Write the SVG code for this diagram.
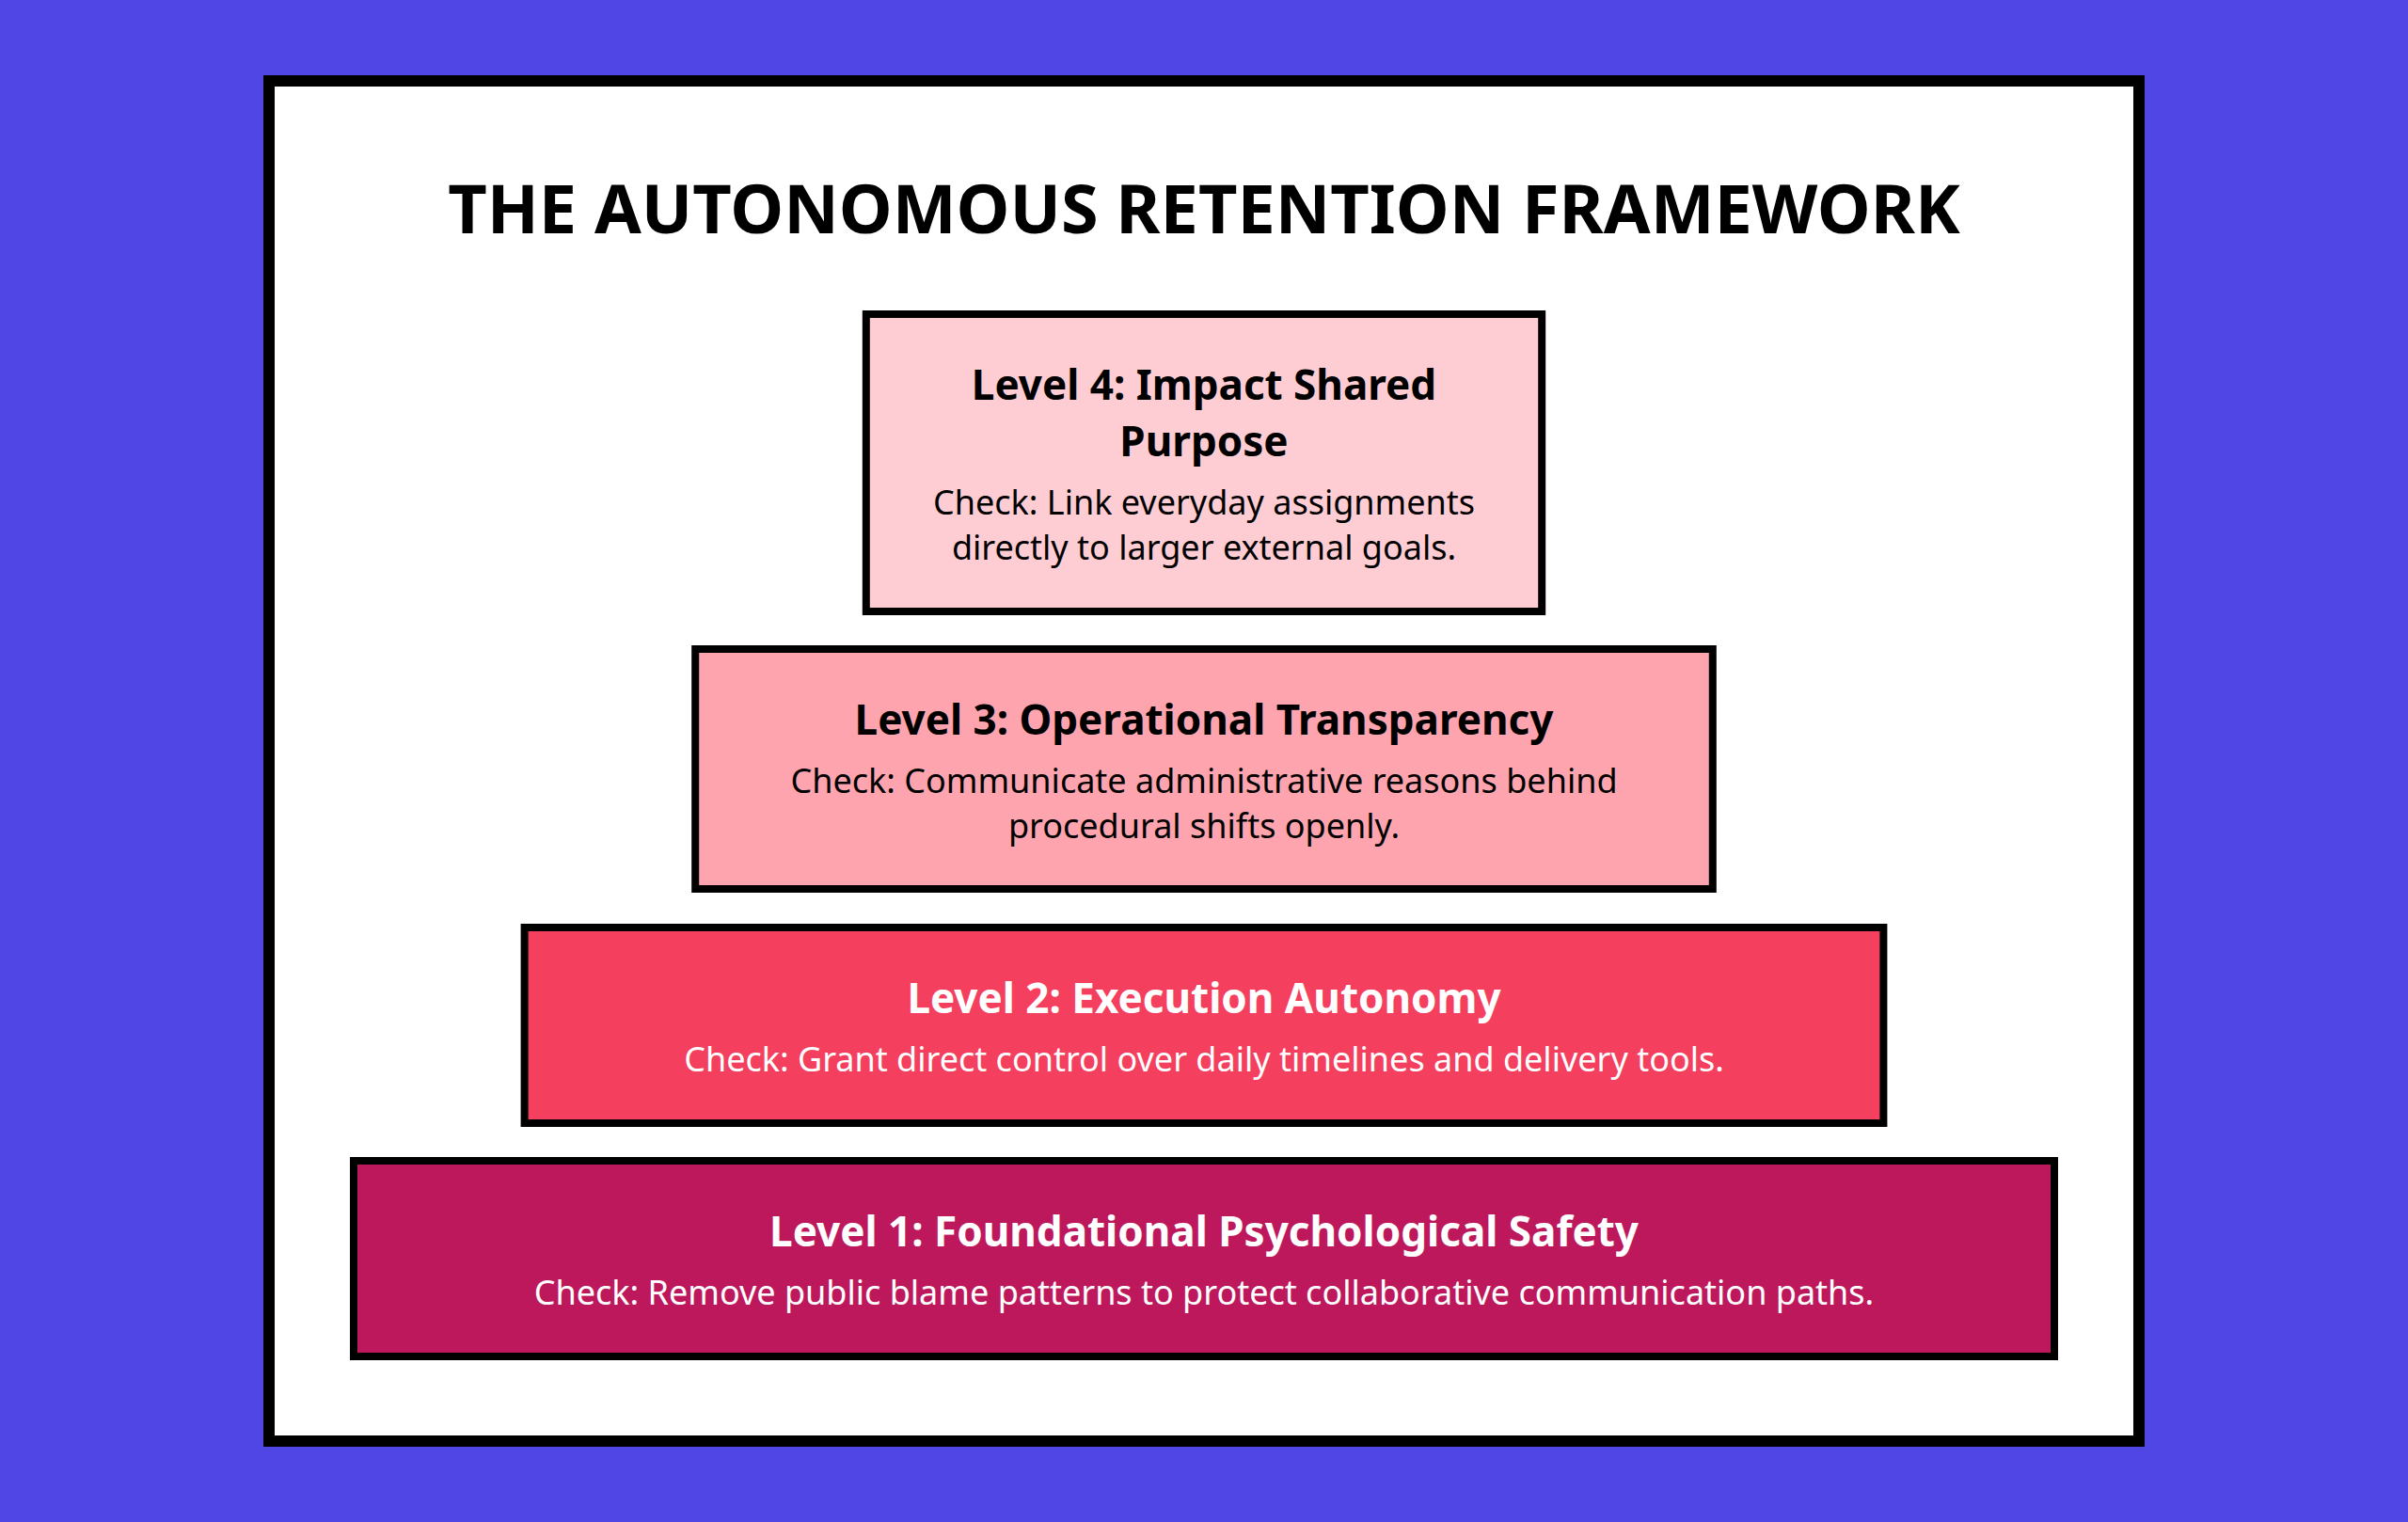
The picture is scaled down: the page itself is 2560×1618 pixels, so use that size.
<svg xmlns="http://www.w3.org/2000/svg" width="2560" height="1618" viewBox="0 0 2560 1618">
  <style>
    .frame { fill: #ffffff; stroke: #000000; stroke-width: 12; }
    .box { stroke: #000000; stroke-width: 8; }
    .title { font-family: "Noto Sans", "Open Sans", sans-serif; font-weight: 700; font-size: 72px; fill: #000000; text-anchor: middle; }
    .head { font-family: "Noto Sans", "Open Sans", sans-serif; font-weight: 700; font-size: 44px; text-anchor: middle; }
    .body { font-family: "Noto Sans", "Open Sans", sans-serif; font-weight: 400; font-size: 36px; text-anchor: middle; }
    .dark { fill: #000000; }
    .light { fill: #ffffff; }
  </style>
  <rect x="0" y="0" width="2560" height="1618" fill="#4F46E5"/>
  <rect class="frame" x="286" y="86" width="1988" height="1446"/>
  <text class="title" x="1280" y="248">THE AUTONOMOUS RETENTION FRAMEWORK</text>

  <g id="level4">
    <rect class="box" x="920.8" y="334" width="718.4" height="316" fill="#FECDD3"/>
    <text class="head dark" x="1280" y="425">Level 4: Impact Shared</text>
    <text class="head dark" x="1280" y="484.5">Purpose</text>
    <text class="body dark" x="1280" y="546.5">Check: Link everyday assignments</text>
    <text class="body dark" x="1280" y="594.5">directly to larger external goals.</text>
  </g>

  <g id="level3">
    <rect class="box" x="739.2" y="690" width="1081.6" height="255" fill="#FDA4AF"/>
    <text class="head dark" x="1280" y="780.5">Level 3: Operational Transparency</text>
    <text class="body dark" x="1280" y="842.5">Check: Communicate administrative reasons behind</text>
    <text class="body dark" x="1280" y="890.5">procedural shifts openly.</text>
  </g>

  <g id="level2">
    <rect class="box" x="557.6" y="986" width="1444.8" height="208" fill="#F43F5E"/>
    <text class="head light" x="1280" y="1076.8">Level 2: Execution Autonomy</text>
    <text class="body light" x="1280" y="1138.5">Check: Grant direct control over daily timelines and delivery tools.</text>
  </g>

  <g id="level1">
    <rect class="box" x="376" y="1234" width="1808" height="208" fill="#BE185D"/>
    <text class="head light" x="1280" y="1324.8">Level 1: Foundational Psychological Safety</text>
    <text class="body light" x="1280" y="1386.5">Check: Remove public blame patterns to protect collaborative communication paths.</text>
  </g>

  <g id="connectors"></g>
</svg>
